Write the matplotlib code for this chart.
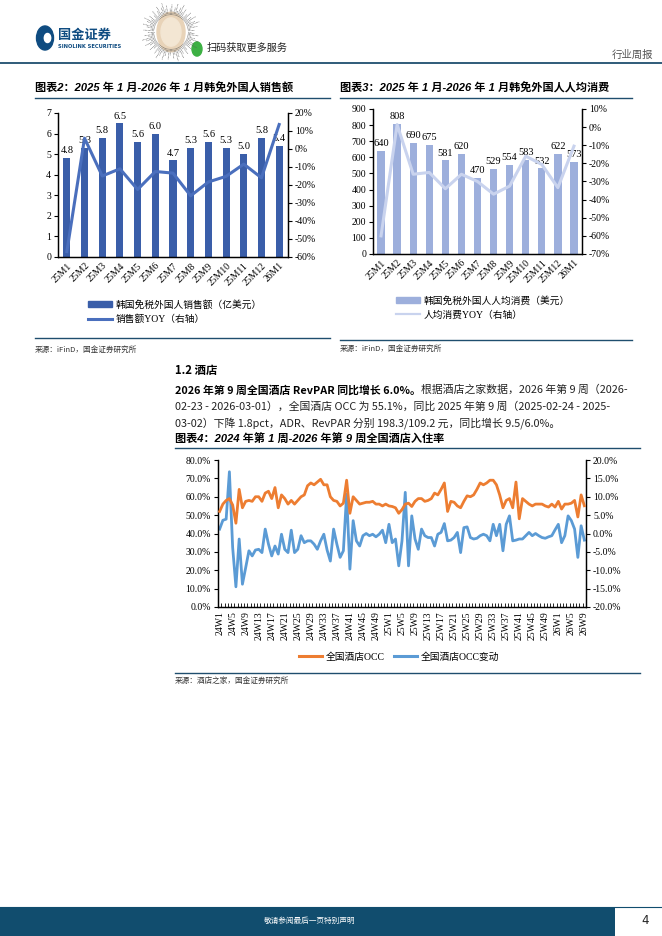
import numpy as np
import matplotlib.pyplot as plt
from matplotlib.patches import Rectangle, Circle
from matplotlib.lines import Line2D
from matplotlib.ticker import FuncFormatter, MultipleLocator, FixedLocator

plt.rcParams['font.family'] = ['Liberation Serif', 'Noto Sans CJK SC']
plt.rcParams['axes.unicode_minus'] = False

W, H = 662, 936
NAVY = "#1f4e6e"

# ---- data ----
months = ["25M1", "25M2", "25M3", "25M4", "25M5", "25M6", "25M7",
          "25M8", "25M9", "25M10", "25M11", "25M12", "26M1"]
sales = [4.8, 5.3, 5.8, 6.5, 5.6, 6.0, 4.7, 5.3, 5.6, 5.3, 5.0, 5.8, 5.4]
sales_yoy = [-57, 6, -15, -11, -22.5, -12.5, -13.4, -26, -18.3, -15.2, -8.4, -16, 13.6]
spend = [640, 808, 690, 675, 581, 620, 470, 529, 554, 583, 532, 622, 573]
spend_yoy = [-60, 1.4, -26, -25, -34, -26, -30, -37, -32.5, -16, -20.6, -33.4, -10.5]

weeks = ([f"24W{i}" for i in range(1, 53)] + [f"25W{i}" for i in range(1, 53)]
         + [f"26W{i}" for i in range(1, 10)])
occ = [52, 56, 58, 59, 55.5, 45.6, 64, 54, 57.5, 58, 57.5, 60, 60, 57.5, 62, 63, 59, 65, 54, 61,
       59, 56, 58, 56, 58, 60, 61, 66, 67.5, 66.5, 68, 69.5, 66.5, 66.5, 60, 58, 57.5, 55, 56.5, 69,
       51, 60, 58, 56, 56.5, 57, 57, 57.5, 56, 56, 55, 56, 55, 54.7, 54, 51, 53, 56, 56.5, 54.7,
       57.5, 59, 59, 57.5, 58, 59, 62, 61, 64, 67.5, 52, 57.5, 57, 55, 54, 57.5, 60.5, 60, 61, 64,
       67.5, 66.5, 67.5, 69, 69, 66.5, 61, 54, 58, 59, 54, 68, 48, 59, 57.5, 56, 55, 56, 56, 56,
       55, 54.4, 56, 54.4, 57.5, 53.3, 56, 56, 56.5, 58, 49, 61, 55.1]
occ_chg = [1.2, 3.6, 3.9, 16.8, -3.8, -14.5, -1.5, -13.8, -9.3, -4.7, -6.1, -4.5, -4.3, -5.2, 1.2,
           -2.9, -6.1, -3.4, -5.6, -0.2, -4.3, -5.2, 0.9, -5.2, -4.3, -0.6, -2.5, -2.0, -2.0, -2.9,
           -4.3, -2.0, -0.2, -4.5, -7.5, 1.2, -2.9, -6.5, -4.7, 10.7, -9.7, 3.5, -2.0, -3.4, -0.6,
           0.0, -0.6, -0.2, -0.9, -0.2, 0.9, -2.5, 2.5, -2.5, -1.5, -8.8, -2.0, 11.2, -8.8, 4.8,
           -1.5, -4.3, 1.2, -0.6, -1.1, -1.1, -3.4, -0.2, 0.3, 2.7, -2.0, -1.8, -1.1, 0.3, -5.2,
           1.6, 1.8, -1.1, -1.5, -1.3, -0.6, -0.2, -0.6, -2.0, 2.5, -0.6, 2.5, -4.7, 2.5, 4.8,
           -2.0, -1.8, -1.5, -1.5, -0.6, 0.3, -0.6, 0.0, -0.6, -1.1, -1.3, -0.9, -0.6, 1.0, 2.5,
           -2.5, -0.6, 4.8, 3.5, 1.2, -6.5, 2.1, -1.8]

fig = plt.figure(figsize=(W / 100, H / 100), dpi=100)


def px_axes(l, t, r, b):
    return fig.add_axes([l / W, 1 - b / H, (r - l) / W, (b - t) / H])


def ftext(x, y, s, **kw):
    return fig.text(x / W, 1 - y / H, s, **kw)


def hline(x0, x1, y, lw=1.0, color=NAVY):
    fig.add_artist(Line2D([x0 / W, x1 / W], [1 - y / H, 1 - y / H], color=color, lw=lw))


cjk = ['Noto Sans CJK SC']
title_font = dict(family=['Liberation Sans', 'Noto Sans CJK SC'], weight='bold',
                  style='italic', fontsize=8, va='center')

# ---- header ----
fig.add_artist(Circle((45 / W, 1 - 38 / H), 8.5 / W, color="#0f4c81", transform=fig.transFigure))
fig.add_artist(Circle((47.5 / W, 1 - 38 / H), 3.2 / W, color="white", transform=fig.transFigure))
ftext(58, 35, "国金证券", family=cjk, weight='bold', fontsize=9.5, color="#0f4c81", va='center')
ftext(58, 46, "SINOLINK SECURITIES", family=['DejaVu Sans'], weight='bold', fontsize=3.7,
      color="#0f4c81", va='center')

# mini-program code badge (decorative)
qx, qy = 171, 32
for k in range(90):
    ang = 2 * np.pi * k / 90
    r0, r1 = 17, 17 + 3 + (k * 37 % 11)
    fig.add_artist(Line2D([(qx + r0 * np.cos(ang)) / W, (qx + r1 * np.cos(ang)) / W],
                          [1 - (qy + r0 * np.sin(ang)) / H, 1 - (qy + r1 * np.sin(ang)) / H],
                          color="#555555", lw=0.5, ls=(0, (1, 1))))
fig.add_artist(Circle((qx / W, 1 - qy / H), 14 / W, color="#e8d3b8", transform=fig.transFigure))
fig.add_artist(Circle((qx / W, 1 - qy / H), 10 / W, color="#f3e6d3", transform=fig.transFigure))
fig.add_artist(Circle((197 / W, 1 - 49 / H), 5 / W, color="#3cb043", transform=fig.transFigure))
ftext(207, 48, "扫码获取更多服务", family=cjk, fontsize=7.3, color="#222222", va='center')
ftext(612, 55, "行业周报", family=cjk, fontsize=7.5, color="#555555", va='center')
hline(0, 662, 63, lw=1.3)

# ---- chart 2 ----
ftext(35, 88, "图表2：2025 年 1 月-2026 年 1 月韩免外国人销售额", **title_font)
hline(35, 330, 97.5, lw=1.0)

bar_c2, line_c2 = "#3a5ea9", "#4a6fbd"
ax2 = px_axes(58, 113, 288, 257)
x = np.arange(len(months))
b2 = ax2.bar(x, sales, width=0.4, color=bar_c2, zorder=2)
ax2.bar_label(b2, fmt="%.1f", padding=2, fontsize=7.5)
ax2.set_ylim(0, 7)
ax2.set_xlim(-0.5, len(months) - 0.5)
ax2.yaxis.set_major_locator(MultipleLocator(1))
ax2r = ax2.twinx()
ax2r.plot(x, sales_yoy, color=line_c2, lw=2.2, zorder=3)
ax2r.set_ylim(-60, 20)
ax2r.yaxis.set_major_locator(MultipleLocator(10))
ax2r.yaxis.set_major_formatter(FuncFormatter(lambda v, p: f"{v:.0f}%"))

# ---- chart 3 ----
ftext(340, 88, "图表3：2025 年 1 月-2026 年 1 月韩免外国人人均消费", **title_font)
hline(340, 632, 97.5, lw=1.0)

bar_c3, line_c3 = "#9dafdc", "#c9d3ee"
ax3 = px_axes(373, 109, 582, 254)
b3 = ax3.bar(x, spend, width=0.45, color=bar_c3, zorder=2)
ax3.bar_label(b3, fmt="%d", padding=2, fontsize=7.5)
ax3.set_ylim(0, 900)
ax3.set_xlim(-0.5, len(months) - 0.5)
ax3.yaxis.set_major_locator(MultipleLocator(100))
ax3r = ax3.twinx()
ax3r.plot(x, spend_yoy, color=line_c3, lw=2.2, zorder=3)
ax3r.set_ylim(-70, 10)
ax3r.yaxis.set_major_locator(MultipleLocator(10))
ax3r.yaxis.set_major_formatter(FuncFormatter(lambda v, p: f"{v:.0f}%"))

for a, ar in ((ax2, ax2r), (ax3, ax3r)):
    for s in (a, ar):
        s.spines['top'].set_visible(False)
        s.tick_params(labelsize=7, length=3, width=0.8, pad=2)
        for sp in s.spines.values():
            sp.set_linewidth(0.9)
    a.set_xticks(x)
    a.set_xticklabels(months, rotation=45, ha='right', rotation_mode='anchor', fontsize=7)
    a.tick_params(axis='x', length=0, pad=3)

leg_kw = dict(frameon=False, fontsize=7, handlelength=2.5, handleheight=0.55,
              labelspacing=0.45, borderaxespad=0, borderpad=0, handletextpad=0.3, loc='upper left')
fig.legend([Rectangle((0, 0), 1, 1, color=bar_c2), Line2D([], [], color=line_c2, lw=2.2)],
           ["韩国免税外国人销售额（亿美元）", "销售额YOY（右轴）"],
           bbox_to_anchor=(88 / W, 1 - 300 / H), **leg_kw)
fig.legend([Rectangle((0, 0), 1, 1, color=bar_c3), Line2D([], [], color=line_c3, lw=1.6)],
           ["韩国免税外国人人均消费（美元）", "人均消费YOY（右轴）"],
           bbox_to_anchor=(396 / W, 1 - 296 / H), **leg_kw)

hline(35, 330, 338, lw=1.0)
hline(340, 632, 340, lw=1.0)
ftext(35, 350, "来源：iFinD，国金证券研究所", family=cjk, fontsize=5.5, color="#333333", va='center')
ftext(340, 349, "来源：iFinD，国金证券研究所", family=cjk, fontsize=5.5, color="#333333", va='center')

# ---- section text ----
ftext(175, 370, "1.2 酒店", family=cjk, weight='bold', fontsize=8.2, va='center')
para = dict(family=cjk, fontsize=7.8, va='center', color="#222222")
fig.canvas.draw()
rend = fig.canvas.get_renderer()
t_bold = ftext(175, 390, "2026 年第 9 周全国酒店 RevPAR 同比增长 6.0%。", **dict(para, weight='bold', color='black'))
bb = t_bold.get_window_extent(renderer=rend)
ftext(bb.x1, 390, "根据酒店之家数据，2026 年第 9 周（2026-", **para)
ftext(175, 406.5, "02-23 - 2026-03-01），全国酒店 OCC 为 55.1%，同比 2025 年第 9 周（2025-02-24 - 2025-", **para)
ftext(175, 423, "03-02）下降 1.8pct，ADR、RevPAR 分别 198.3/109.2 元，同比增长 9.5/6.0%。", **para)

# ---- chart 4 ----
ftext(175, 439, "图表4：2024 年第 1 周-2026 年第 9 周全国酒店入住率", **title_font)
hline(175, 640, 447.5, lw=1.0)

c_occ, c_chg = "#ed7d31", "#5b9bd5"
ax4 = px_axes(218, 460, 586, 607)
xi = np.arange(len(weeks))
ax4.plot(xi, occ, color=c_occ, lw=2.0, zorder=3)
ax4.set_ylim(0, 80)
ax4.set_xlim(-0.5, len(weeks) - 0.5)
ax4.yaxis.set_major_locator(MultipleLocator(10))
ax4.yaxis.set_major_formatter(FuncFormatter(lambda v, p: f"{v:.1f}%"))
ax4r = ax4.twinx()
ax4r.plot(xi, occ_chg, color=c_chg, lw=2.0, zorder=2)
ax4r.set_ylim(-20, 20)
ax4r.yaxis.set_major_locator(MultipleLocator(5))
ax4r.yaxis.set_major_formatter(FuncFormatter(lambda v, p: f"{v:.1f}%"))
ax4.set_zorder(ax4r.get_zorder() + 1)
ax4.patch.set_visible(False)
for s in (ax4, ax4r):
    s.spines['top'].set_visible(False)
    s.tick_params(labelsize=7, length=3, width=0.8, pad=2)
    for sp in s.spines.values():
        sp.set_linewidth(0.9)
ax4.set_xticks(xi[::4])
ax4.set_xticklabels(weeks[::4], rotation=90, fontsize=7)
ax4.xaxis.set_minor_locator(FixedLocator(np.arange(-0.5, len(weeks), 1)))
ax4.tick_params(axis='x', which='major', length=0, pad=3)
ax4.tick_params(axis='x', which='minor', length=3, width=0.6, direction='in')

fig.legend([Line2D([], [], color=c_occ, lw=2.2), Line2D([], [], color=c_chg, lw=2.2)],
           ["全国酒店OCC", "全国酒店OCC变动"], loc='center', ncol=2, frameon=False,
           fontsize=7, handlelength=2.4, handletextpad=0.3, columnspacing=1.0,
           bbox_to_anchor=(399 / W, 1 - 657 / H))
hline(175, 640, 673, lw=1.0)
ftext(175, 681, "来源：酒店之家，国金证券研究所", family=cjk, fontsize=5.5, color="#333333", va='center')

# ---- footer ----
fig.add_artist(Rectangle((0, 0), 615 / W, 29 / H, transform=fig.transFigure,
                         facecolor="#114d6e", edgecolor='none'))
hline(0, 662, 907, lw=0.8, color="#114d6e")
ftext(310, 921, "敬请参阅最后一页特别声明", family=cjk, fontsize=5.5, color="white",
      ha='center', va='center')
ftext(645, 921, "4", family=['DejaVu Sans'], fontsize=8.5, color="#222222", ha='center', va='center')

fig.savefig("out.png", dpi=100)
